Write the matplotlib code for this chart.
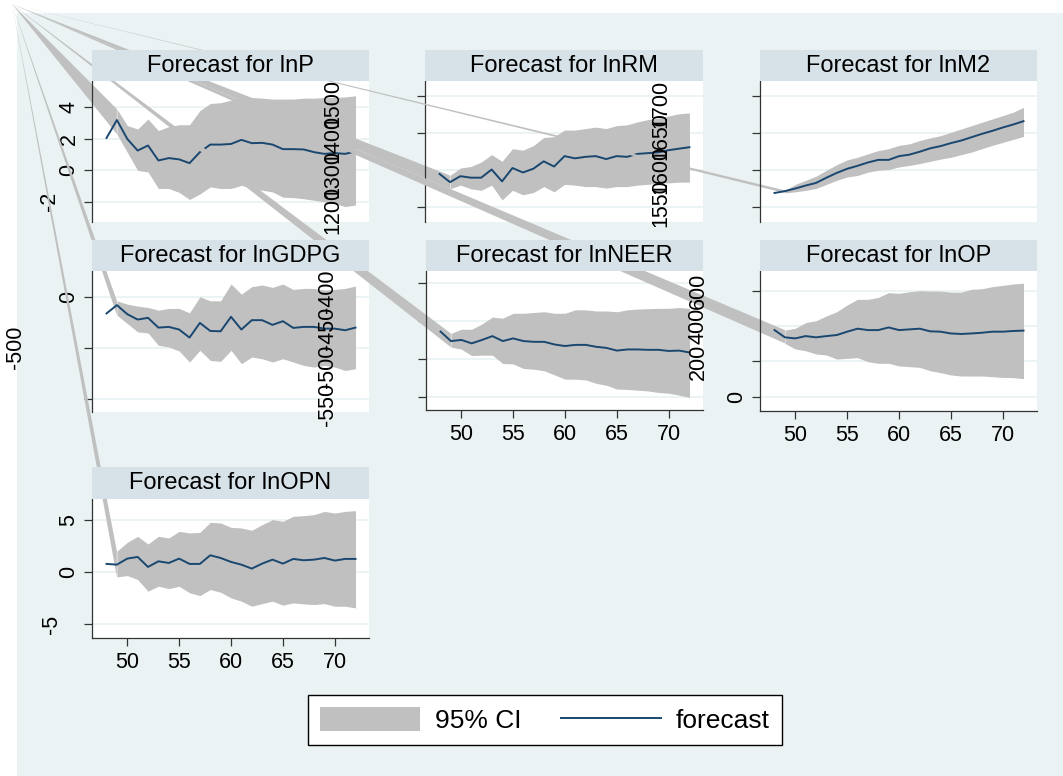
import numpy as np
import matplotlib
matplotlib.use('Agg')
import matplotlib.pyplot as plt
from matplotlib.patches import Polygon, Rectangle
from matplotlib.transforms import ScaledTranslation

plt.rcParams['font.family'] = ['Liberation Sans', 'DejaVu Sans']

W, H = 1063, 776

# forecast periods (line) and CI periods (band starts one step later)
periods = list(range(48, 73))
ci_periods = periods[1:]

lnP_fc = [2.06, 3.2, 2.0, 1.26, 1.58, 0.63, 0.78, 0.7, 0.46, 1.16, 1.64, 1.64, 1.68,
          1.94, 1.73, 1.75, 1.64, 1.35, 1.35, 1.33, 1.16, 1.05, 1.1, 1.05, 1.2]
lnP_up = [3.9, 2.85, 2.63, 3.26, 2.53, 2.78, 2.9, 2.9, 3.8, 4.25, 4.3, 4.46, 4.63, 4.63,
          4.59, 4.53, 4.53, 4.53, 4.59, 4.59, 4.63, 4.63, 4.67, 4.74]
lnP_lo = [2.3, 1.15, 0.0, -0.1, -1.15, -1.15, -1.4, -1.85, -1.5, -1.05, -1.15, -1.15, -0.95,
          -1.15, -1.26, -1.37, -1.7, -1.73, -1.8, -1.9, -2.0, -2.1, -2.3, -2.2]

lnRM_fc = [1595, 1584, 1592, 1590, 1590, 1601, 1585, 1603, 1597, 1602, 1612, 1605, 1619,
           1616, 1618, 1619, 1615, 1619, 1618, 1622, 1623, 1624, 1627, 1629, 1631]
lnRM_up = [1593, 1603, 1605, 1611, 1621, 1612, 1629, 1627, 1633, 1644, 1645, 1654, 1654,
           1656, 1658, 1656, 1660, 1661, 1665, 1668, 1670, 1673, 1676, 1677]
lnRM_lo = [1575, 1580, 1575, 1573, 1580, 1560, 1573, 1567, 1570, 1578, 1571, 1581, 1580,
           1578, 1578, 1576, 1578, 1578, 1580, 1581, 1583, 1583, 1584, 1584]

lnM2_fc = [10.39, 10.44, 10.51, 10.59, 10.66, 10.80, 10.93, 11.04, 11.12, 11.21, 11.28, 11.28,
           11.38, 11.42, 11.50, 11.59, 11.65, 11.73, 11.80, 11.89, 11.98, 12.06, 12.15, 12.23, 12.32]
lnM2_up = [10.46, 10.62, 10.73, 10.84, 11.0, 11.15, 11.28, 11.35, 11.44, 11.53, 11.58, 11.67,
           11.71, 11.80, 11.87, 11.93, 12.02, 12.11, 12.20, 12.29, 12.38, 12.47, 12.56, 12.69]
lnM2_lo = [10.39, 10.42, 10.46, 10.51, 10.62, 10.73, 10.82, 10.86, 10.95, 11.0, 11.02, 11.09,
           11.13, 11.18, 11.24, 11.30, 11.35, 11.42, 11.49, 11.58, 11.67, 11.75, 11.83, 11.91]

lnGDPG_fc = [-164, -82, -171, -224, -207, -303, -296, -322, -401, -257, -336, -339, -197,
             -322, -230, -230, -276, -240, -306, -296, -296, -313, -313, -329, -303]
lnGDPG_up = [-40, -72, -92, -105, -132, -115, -115, -158, 0, -40, -40, 125, 26, 99, 115, 92,
             125, 72, 82, 82, 66, 72, 82, 105]
lnGDPG_lo = [-181, -263, -345, -355, -477, -493, -533, -641, -526, -625, -635, -526, -658,
             -592, -609, -641, -609, -641, -674, -691, -674, -691, -724, -707]

lnNEER_fc = [107.3, 104.8, 105.1, 104.2, 105.1, 106.1, 104.8, 105.5, 104.8, 104.6, 104.6, 103.9,
             103.5, 103.8, 103.8, 103.3, 103.0, 102.3, 102.6, 102.6, 102.5, 102.5, 102.2, 102.3, 101.8]
lnNEER_up = [106.8, 107.9, 107.9, 109.3, 111.1, 110.8, 112.1, 112.1, 112.3, 112.5, 112.1, 112.1,
             113.0, 113.0, 112.7, 112.7, 112.5, 113.0, 113.2, 113.3, 113.4, 113.4, 113.6, 113.4]
lnNEER_lo = [103.2, 102.7, 101.0, 101.1, 101.1, 98.9, 98.8, 97.6, 97.4, 97.0, 95.9, 94.8,
             94.8, 94.6, 93.7, 93.2, 92.2, 92.1, 91.9, 91.7, 91.3, 91.1, 90.6, 90.0]

lnOP_fc = [377, 336, 330, 343, 336, 343, 349, 368, 385, 377, 377, 392, 377, 381, 385, 370,
           368, 358, 355, 358, 362, 368, 368, 372, 374]
lnOP_up = [377, 387, 419, 430, 457, 481, 519, 551, 551, 562, 589, 585, 594, 600, 598, 598,
           592, 592, 608, 611, 623, 630, 638, 642]
lnOP_lo = [302, 270, 260, 242, 236, 213, 217, 221, 198, 189, 189, 174, 170, 166, 147, 136,
           123, 117, 117, 117, 113, 109, 108, 102]

lnOPN_fc = [0.77, 0.7, 1.28, 1.44, 0.48, 1.02, 0.86, 1.28, 0.77, 0.77, 1.6, 1.34, 0.96, 0.7,
            0.32, 0.8, 1.18, 0.8, 1.25, 1.12, 1.18, 1.34, 1.09, 1.25, 1.25]
lnOPN_up = [1.98, 2.84, 3.42, 2.68, 3.42, 3.26, 3.9, 3.74, 3.8, 4.76, 4.7, 4.28, 4.22, 4.0,
            4.54, 5.02, 4.86, 5.34, 5.4, 5.5, 5.81, 5.65, 5.81, 5.88]
lnOPN_lo = [-0.48, -0.35, -0.73, -1.85, -1.37, -1.6, -1.37, -2.0, -2.27, -1.69, -1.95, -2.49,
            -2.81, -3.29, -3.04, -2.81, -3.19, -2.97, -3.07, -3.13, -3.04, -3.29, -3.29, -3.45]

names = ['lnP', 'lnRM', 'lnM2', 'lnGDPG', 'lnNEER', 'lnOP', 'lnOPN']
forecasts = [lnP_fc, lnRM_fc, lnM2_fc, lnGDPG_fc, lnNEER_fc, lnOP_fc, lnOPN_fc]
uppers = [lnP_up, lnRM_up, lnM2_up, lnGDPG_up, lnNEER_up, lnOP_up, lnOPN_up]
lowers = [lnP_lo, lnRM_lo, lnM2_lo, lnGDPG_lo, lnNEER_lo, lnOP_lo, lnOPN_lo]

yticks = [[-2, 0, 2, 4], [1550, 1600, 1650, 1700], [10, 11, 12, 13], [-1000, -500, 0],
          [90, 100, 110, 120], [0, 200, 400, 600], [-5, 0, 5]]
yticklabels = [['-2', '0', '2', '4'], ['', '', '', ''], ['', '', '', ''], ['', '-500', '0'],
               ['', '', '', ''], ['0', '', '', ''], ['-5', '0', '5']]
ylims = [(-3.28, 5.68), (1530.4, 1720), (9.61, 13.40), (-1132, 253),
         (86.7, 123.2), (-81, 711.5), (-6.34, 7.0)]
xticks = [50, 55, 60, 65, 70]

# stray rotated labels drawn over the panels
stray_labels = [['1200', '1300', '1400', '1500'], ['1550', '1600', '1650', '1700'],
                ['-550', '-500', '-450', '-400'], ['200', '400', '600']]
stray_x = [333, 661, 328, 698]
stray_y = [[209.6, 174.2, 138.8, 103.4], [203.5, 170, 136.5, 103.5],
           [404, 366.3, 328.7, 291], [362, 326, 291]]

# panel boxes in pixels: x0, strip top, plot top, x1, plot bottom, x axis shown
boxes = [(92, 50, 81, 369, 222, False), (425, 50, 81, 703, 222, False),
         (760, 50, 81, 1037, 222, False), (92, 240, 271, 369, 412, False),
         (426, 240, 271, 703, 410, True), (760, 240, 271, 1037, 411, True),
         (92, 467, 499, 369, 638, True)]
neg_shift = {'-2': 20, '-5': 18, '-500': 53}

bg = '#EAF2F3'
strip_col = '#D6E2E7'
band_col = '#C0C0C0'
line_col = '#1A476F'
axis_col = '#333333'
corner = (12, 4)
lab_size = 15.5

fig = plt.figure(figsize=(W / 100, H / 100), dpi=100)
fig.patch.set_facecolor('white')
fig.add_artist(Rectangle((17 / W, 0), 1 - 17 / W, 1 - 13 / H, transform=fig.transFigure,
                         facecolor=bg, edgecolor='none', zorder=-10))

handles = None
for i, name in enumerate(names):
    x0, st, pt, x1, pb, showx = boxes[i]
    ax = fig.add_axes([x0 / W, 1 - pb / H, (x1 - x0) / W, (pb - pt) / H])
    ax.set_zorder(i + 1)
    ax.set_facecolor('white')
    band = ax.fill_between(ci_periods, lowers[i], uppers[i], color=band_col, lw=0, zorder=1)
    line, = ax.plot(periods, forecasts[i], color=line_col, lw=1.4, zorder=2)
    if handles is None:
        handles = [band, line]
    ax.set_xlim(46.6, 73.3)
    ax.set_ylim(*ylims[i])
    ax.set_yticks(yticks[i], labels=yticklabels[i])
    ax.yaxis.grid(True, color=bg, lw=1.3)
    ax.set_axisbelow(True)
    for s in ['top', 'right']:
        ax.spines[s].set_visible(False)
    ax.spines['left'].set_color(axis_col)
    ax.spines['left'].set_linewidth(0.9)
    ax.tick_params(axis='y', direction='out', length=6, width=0.9, color=axis_col,
                   labelsize=lab_size, pad=3, labelrotation=90)
    if showx:
        ax.set_xticks(xticks)
        ax.spines['bottom'].set_color(axis_col)
        ax.spines['bottom'].set_linewidth(0.9)
        ax.tick_params(axis='x', direction='out', length=6, width=0.9, color=axis_col,
                       labelsize=lab_size, pad=4)
    else:
        ax.spines['bottom'].set_visible(False)
        ax.xaxis.set_visible(False)
    ticks = ax.yaxis.get_major_ticks(len(yticks[i]))
    for t, lab in zip(ticks, yticklabels[i]):
        t.label1.set_verticalalignment('center')
        if lab in neg_shift:
            t.label1.set_transform(t.label1.get_transform() +
                                   ScaledTranslation(-neg_shift[lab] / 100, 0, fig.dpi_scale_trans))

    # band polygon leaks a vertex to the graph corner
    p_up = ax.transData.transform((ci_periods[0], uppers[i][0]))
    p_lo = ax.transData.transform((ci_periods[0], lowers[i][0]))
    c = fig.transFigure.transform((corner[0] / W, 1 - corner[1] / H))
    pts = fig.transFigure.inverted().transform(np.array([c, p_up, p_lo]))
    ax.add_artist(Polygon(pts, closed=True, transform=fig.transFigure, facecolor=band_col,
                          edgecolor='none', clip_on=False, zorder=1.5))

    # title strip
    fig.add_artist(Rectangle((x0 / W, 1 - pt / H), (x1 - x0) / W, (pt - st) / H,
                             transform=fig.transFigure, facecolor=strip_col,
                             edgecolor='none', zorder=20))
    fig.text((x0 + x1) / 2 / W, 1 - (st + pt) / 2 / H, 'Forecast for ' + name,
             ha='center', va='center', fontsize=17, zorder=21)

for xs, ys, labs in zip(stray_x, stray_y, stray_labels):
    for yy, lab in zip(ys, labs):
        fig.text(xs / W, 1 - yy / H, lab, rotation=90, ha='center', va='center',
                 fontsize=lab_size, zorder=25)

leg = fig.legend(handles, ['95% CI', 'forecast'], ncol=2, loc='center',
                 bbox_to_anchor=(545 / W, 1 - 720 / H), frameon=True, fancybox=False,
                 edgecolor='black', framealpha=1, fontsize=19, handlelength=3.8,
                 handleheight=1.05, handletextpad=0.55, columnspacing=1.5, borderpad=0.45)
leg.get_frame().set_linewidth(1)
leg.set_zorder(30)

fig.savefig('out.png', dpi=100)
